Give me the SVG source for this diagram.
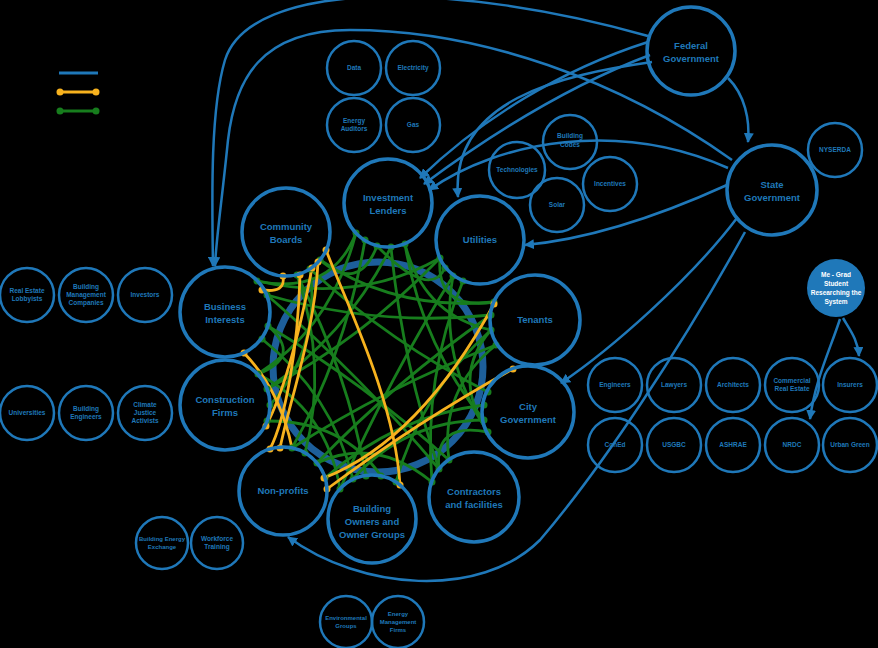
<svg xmlns="http://www.w3.org/2000/svg" width="878" height="648" viewBox="0 0 878 648">
<defs>
<marker id="ah" viewBox="0 0 10 10" refX="9" refY="5" markerWidth="4" markerHeight="4" orient="auto-start-reverse" markerUnits="strokeWidth">
<path d="M0,0 L10,5 L0,10 z" fill="#1f78b9"/>
</marker>
<style>
.big{fill:none;stroke:#1f78b9;stroke-width:3.5}
.sm{fill:none;stroke:#1f78b9;stroke-width:2.5}
.tb{font-family:"Liberation Sans",Arial,sans-serif;font-weight:bold;font-size:9.5px;fill:#1f78b9;text-anchor:middle}
.ts{font-family:"Liberation Sans",Arial,sans-serif;font-weight:bold;font-size:6.5px;fill:#1f78b9;text-anchor:middle}
.tw{font-family:"Liberation Sans",Arial,sans-serif;font-weight:bold;font-size:6.5px;fill:#ffffff;text-anchor:middle}
.arr{fill:none;stroke:#1f78b9;stroke-width:2.5;marker-end:url(#ah)}
.g{fill:none;stroke:#177d1d;stroke-width:2.8}
.o{fill:none;stroke:#f7b21e;stroke-width:2.8}
.gd{fill:#177d1d}
.od{fill:#f7b21e}
</style>
</defs>
<rect width="878" height="648" fill="#000000"/>

<g id="legend">
<line x1="59" y1="73" x2="98" y2="73" stroke="#1f78b9" stroke-width="3"/>
<line x1="60" y1="92" x2="96" y2="92" stroke="#f7b21e" stroke-width="3"/>
<circle cx="60" cy="92" r="3.5" class="od"/><circle cx="96" cy="92" r="3.5" class="od"/>
<line x1="60" y1="111" x2="96" y2="111" stroke="#177d1d" stroke-width="3"/>
<circle cx="60" cy="111" r="3.5" class="gd"/><circle cx="96" cy="111" r="3.5" class="gd"/>
</g>

<circle id="ring" cx="378" cy="367" r="105" fill="none" stroke="#1d5f9b" stroke-width="7"/>

<g id="connectors">
<path class="arr" d="M648,36 C450,-20 250,-20 225,60 C210,110 212,200 213,266"/>
<path class="arr" d="M732,160 C620,80 480,30 350,30 C260,30 235,80 228,140 C222,200 216,240 215,266"/>
<path class="arr" d="M648,42 C560,70 480,120 420,178"/>
<path class="arr" d="M650,55 C570,85 490,135 424,184"/>
<path class="arr" d="M728,168 C620,120 500,140 429,190"/>
<path class="arr" d="M652,62 C560,75 450,100 458,197"/>
<path class="arr" d="M727,185 C650,220 580,240 525,245"/>
<path class="arr" d="M737,218 C690,280 610,350 561,383"/>
<path class="arr" d="M745,232 C680,350 600,470 540,540 C480,600 360,590 288,537"/>
<path class="arr" d="M728,78 C745,95 750,120 748,142"/>
<path class="arr" d="M843,318 C850,330 858,340 859,356"/>
<path class="arr" d="M840,319 C830,350 815,380 810,419"/>

<g id="green">
<path class="g" d="M257,281 Q358.8,304 440,258"/>
<path class="g" d="M267,295 Q378.6,327 491,315"/>
<path class="g" d="M268,326 Q365.3,384.3 449,460"/>
<path class="g" d="M262,339 Q332,394.7 353,479"/>
<path class="g" d="M320,260 Q396.9,311.5 494,302"/>
<path class="g" d="M310,269 Q391.7,343.6 488,392"/>
<path class="g" d="M297,275 Q347.8,372.9 366,476"/>
<path class="g" d="M310,269 Q320.8,347.9 270,405"/>
<path class="g" d="M356,233 Q331.9,326.1 258,374"/>
<path class="g" d="M365,240 Q345.8,352.4 292,448"/>
<path class="g" d="M391,247 Q402,361.5 439,469"/>
<path class="g" d="M405,244 Q421.2,344.6 484,420"/>
<path class="g" d="M405,244 Q423.5,315.4 491,330"/>
<path class="g" d="M356,233 Q331.5,295.9 257,281"/>
<path class="g" d="M440,258 Q362,339.1 267,389"/>
<path class="g" d="M453,276 Q390,377.4 340,489"/>
<path class="g" d="M463,281 Q423.2,376.8 432,482"/>
<path class="g" d="M453,276 Q438.1,358.9 488,432"/>
<path class="g" d="M491,315 Q394.9,381.7 317,463"/>
<path class="g" d="M491,330 Q420.6,392.7 396,482"/>
<path class="g" d="M496,345 Q439.4,390.4 449,460"/>
<path class="g" d="M484,405 Q395.2,415.8 325,478"/>
<path class="g" d="M484,420 Q404.3,421 353,479"/>
<path class="g" d="M488,432 Q433.6,421.6 439,469"/>
<path class="g" d="M439,469 Q361.8,377.1 267,295"/>
<path class="g" d="M432,482 Q375.7,435.9 317,463"/>
<path class="g" d="M340,489 Q326.7,409.3 258,374"/>
<path class="g" d="M292,448 Q388.4,386.5 496,345"/>
<path class="g" d="M305,453 Q328,365.4 297,275"/>
<path class="g" d="M267,389 Q346.2,335.5 391,247"/>
<path class="g" d="M267,421 Q342.9,420.3 381,476"/>
<path class="g" d="M268,326 Q303,356.3 258,374"/>
<path class="g" d="M320,260 Q358.8,293.3 377,246"/>
<path class="g" d="M440,258 Q435.9,310.8 494,302"/>
<path class="g" d="M488,432 Q450.5,376.5 491,330"/>
<path class="g" d="M445,268 Q430,300 377,246"/>
</g>
<g id="orange">
<path class="o" d="M326,250 C345,300 395,400 400,485"/>
<path class="o" d="M262,290 C278,292 285,288 283,276"/>
<path class="o" d="M300,275 C298,350 285,420 270,449"/>
<path class="o" d="M318,262 C315,330 290,400 280,448"/>
<path class="o" d="M244,353 Q280,390 292,448"/>
<path class="o" d="M266,426 C285,390 300,330 312,268"/>
<path class="o" d="M494,304 Q420,440 324,478"/>
<path class="o" d="M513,369 Q420,420 327,489"/>
</g>
<g id="dots">
<g class="gd">
<circle cx="257" cy="281" r="3.5"/><circle cx="267" cy="295" r="3.5"/><circle cx="262" cy="339" r="3.5"/><circle cx="268" cy="326" r="3.5"/>
<circle cx="320" cy="260" r="3.5"/><circle cx="310" cy="269" r="3.5"/><circle cx="297" cy="275" r="3.5"/>
<circle cx="356" cy="233" r="3.5"/><circle cx="365" cy="240" r="3.5"/><circle cx="377" cy="246" r="3.5"/><circle cx="391" cy="247" r="3.5"/><circle cx="405" cy="244" r="3.5"/>
<circle cx="440" cy="258" r="3.5"/><circle cx="445" cy="268" r="3.5"/><circle cx="453" cy="276" r="3.5"/><circle cx="463" cy="281" r="3.5"/>
<circle cx="494" cy="302" r="3.5"/><circle cx="491" cy="315" r="3.5"/><circle cx="491" cy="330" r="3.5"/><circle cx="496" cy="345" r="3.5"/>
<circle cx="488" cy="392" r="3.5"/><circle cx="484" cy="405" r="3.5"/><circle cx="484" cy="420" r="3.5"/><circle cx="488" cy="432" r="3.5"/>
<circle cx="449" cy="460" r="3.5"/><circle cx="439" cy="469" r="3.5"/><circle cx="432" cy="482" r="3.5"/>
<circle cx="340" cy="489" r="3.5"/><circle cx="353" cy="479" r="3.5"/><circle cx="366" cy="476" r="3.5"/><circle cx="381" cy="476" r="3.5"/><circle cx="396" cy="482" r="3.5"/>
<circle cx="292" cy="448" r="3.5"/><circle cx="305" cy="453" r="3.5"/><circle cx="317" cy="463" r="3.5"/><circle cx="325" cy="478" r="3.5"/>
<circle cx="258" cy="374" r="3.5"/><circle cx="267" cy="389" r="3.5"/><circle cx="270" cy="405" r="3.5"/><circle cx="267" cy="421" r="3.5"/>
</g>
<g class="od">
<circle cx="326" cy="250" r="3.5"/><circle cx="400" cy="485" r="3.5"/><circle cx="262" cy="290" r="3.5"/><circle cx="283" cy="276" r="3.5"/>
<circle cx="300" cy="275" r="3.5"/><circle cx="270" cy="449" r="3.5"/><circle cx="318" cy="262" r="3.5"/><circle cx="280" cy="448" r="3.5"/>
<circle cx="244" cy="353" r="3.5"/><circle cx="266" cy="426" r="3.5"/><circle cx="312" cy="268" r="3.5"/>
<circle cx="494" cy="304" r="3.5"/><circle cx="324" cy="478" r="3.5"/><circle cx="513" cy="369" r="3.5"/><circle cx="327" cy="489" r="3.5"/>
</g>
</g>
</g>

<g id="federal"><circle class="big" cx="691" cy="51" r="44"/><text class="tb" x="691" y="49">Federal</text><text class="tb" x="691" y="62">Government</text></g>
<g id="state"><circle class="big" cx="772" cy="190" r="45"/><text class="tb" x="772" y="188">State</text><text class="tb" x="772" y="201">Government</text></g>
<g id="investment"><circle class="big" cx="388" cy="203" r="44"/><text class="tb" x="388" y="201">Investment</text><text class="tb" x="388" y="214">Lenders</text></g>
<g id="community"><circle class="big" cx="286" cy="232" r="44"/><text class="tb" x="286" y="230">Community</text><text class="tb" x="286" y="243">Boards</text></g>
<g id="utilities"><circle class="big" cx="480" cy="240" r="44"/><text class="tb" x="480" y="243">Utilities</text></g>
<g id="business"><circle class="big" cx="225" cy="312" r="45"/><text class="tb" x="225" y="310">Business</text><text class="tb" x="225" y="323">Interests</text></g>
<g id="tenants"><circle class="big" cx="535" cy="320" r="45"/><text class="tb" x="535" y="323">Tenants</text></g>
<g id="construction"><circle class="big" cx="225" cy="405" r="45"/><text class="tb" x="225" y="403">Construction</text><text class="tb" x="225" y="416">Firms</text></g>
<g id="city"><circle class="big" cx="528" cy="412" r="46"/><text class="tb" x="528" y="410">City</text><text class="tb" x="528" y="423">Government</text></g>
<g id="nonprofits"><circle class="big" cx="283" cy="491" r="44"/><text class="tb" x="283" y="494">Non-profits</text></g>
<g id="owners"><circle class="big" cx="372" cy="519" r="44"/><text class="tb" x="372" y="512">Building</text><text class="tb" x="372" y="525">Owners and</text><text class="tb" x="372" y="538">Owner Groups</text></g>
<g id="contractors"><circle class="big" cx="474" cy="497" r="45"/><text class="tb" x="474" y="495">Contractors</text><text class="tb" x="474" y="508">and facilities</text></g>

<g id="me"><circle cx="836" cy="288" r="29" fill="#1f78b9"/><text class="tw" x="836" y="277">Me - Grad</text><text class="tw" x="836" y="286">Student</text><text class="tw" x="836" y="295">Researching the</text><text class="tw" x="836" y="304">System</text></g>
<g id="nyserda-top"><circle class="sm" cx="835" cy="150" r="27"/><text class="ts" x="835" y="152">NYSERDA</text></g>

<g id="data"><circle class="sm" cx="354" cy="68" r="27"/><text class="ts" x="354" y="70">Data</text></g>
<g id="electricity"><circle class="sm" cx="413" cy="68" r="27"/><text class="ts" x="413" y="70">Electricity</text></g>
<g id="auditors"><circle class="sm" cx="354" cy="125" r="27"/><text class="ts" x="354" y="123">Energy</text><text class="ts" x="354" y="131">Auditors</text></g>
<g id="gas"><circle class="sm" cx="413" cy="125" r="27"/><text class="ts" x="413" y="127">Gas</text></g>

<g id="codes"><circle class="sm" cx="570" cy="142" r="27"/><text class="ts" x="570" y="138">Building</text><text class="ts" x="570" y="147">Codes</text></g>
<g id="tech"><circle class="sm" cx="517" cy="170" r="28"/><text class="ts" x="517" y="172">Technologies</text></g>
<g id="incentives"><circle class="sm" cx="610" cy="184" r="27"/><text class="ts" x="610" y="186">Incentives</text></g>
<g id="solar"><circle class="sm" cx="557" cy="205" r="27"/><text class="ts" x="557" y="207">Solar</text></g>

<g id="l1"><circle class="sm" cx="27" cy="295" r="27"/><text class="ts" x="27" y="293">Real Estate</text><text class="ts" x="27" y="301">Lobbyists</text></g>
<g id="l2"><circle class="sm" cx="86" cy="295" r="27"/><text class="ts" x="86" y="289">Building</text><text class="ts" x="86" y="297">Management</text><text class="ts" x="86" y="305">Companies</text></g>
<g id="l3"><circle class="sm" cx="145" cy="295" r="27"/><text class="ts" x="145" y="297">Investors</text></g>
<g id="l4"><circle class="sm" cx="27" cy="413" r="27"/><text class="ts" x="27" y="415">Universities</text></g>
<g id="l5"><circle class="sm" cx="86" cy="413" r="27"/><text class="ts" x="86" y="411">Building</text><text class="ts" x="86" y="419">Engineers</text></g>
<g id="l6"><circle class="sm" cx="145" cy="413" r="27"/><text class="ts" x="145" y="407">Climate</text><text class="ts" x="145" y="415">Justice</text><text class="ts" x="145" y="423">Activists</text></g>

<g id="r1"><circle class="sm" cx="615" cy="385" r="27"/><text class="ts" x="615" y="387">Engineers</text></g>
<g id="r2"><circle class="sm" cx="674" cy="385" r="27"/><text class="ts" x="674" y="387">Lawyers</text></g>
<g id="r3"><circle class="sm" cx="733" cy="385" r="27"/><text class="ts" x="733" y="387">Architects</text></g>
<g id="r4"><circle class="sm" cx="792" cy="385" r="27"/><text class="ts" x="792" y="383">Commercial</text><text class="ts" x="792" y="391">Real Estate</text></g>
<g id="r5"><circle class="sm" cx="850" cy="385" r="27"/><text class="ts" x="850" y="387">Insurers</text></g>
<g id="r6"><circle class="sm" cx="615" cy="445" r="27"/><text class="ts" x="615" y="447">ConEd</text></g>
<g id="r7"><circle class="sm" cx="674" cy="445" r="27"/><text class="ts" x="674" y="447">USGBC</text></g>
<g id="r8"><circle class="sm" cx="733" cy="445" r="27"/><text class="ts" x="733" y="447">ASHRAE</text></g>
<g id="r9"><circle class="sm" cx="792" cy="445" r="27"/><text class="ts" x="792" y="447">NRDC</text></g>
<g id="r10"><circle class="sm" cx="850" cy="445" r="27"/><text class="ts" x="850" y="447">Urban Green</text></g>

<g id="b1"><circle class="sm" cx="162" cy="543" r="26"/><text class="ts" x="162" y="541" style="font-size:6px">Building Energy</text><text class="ts" x="162" y="549" style="font-size:6px">Exchange</text></g>
<g id="b2"><circle class="sm" cx="217" cy="543" r="26"/><text class="ts" x="217" y="541">Workforce</text><text class="ts" x="217" y="549">Training</text></g>
<g id="b3"><circle class="sm" cx="346" cy="622" r="26"/><text class="ts" x="346" y="620" style="font-size:6px">Environmental</text><text class="ts" x="346" y="628" style="font-size:6px">Groups</text></g>
<g id="b4"><circle class="sm" cx="398" cy="622" r="26"/><text class="ts" x="398" y="616" style="font-size:6px">Energy</text><text class="ts" x="398" y="624" style="font-size:6px">Management</text><text class="ts" x="398" y="632" style="font-size:6px">Firms</text></g>
</svg>
